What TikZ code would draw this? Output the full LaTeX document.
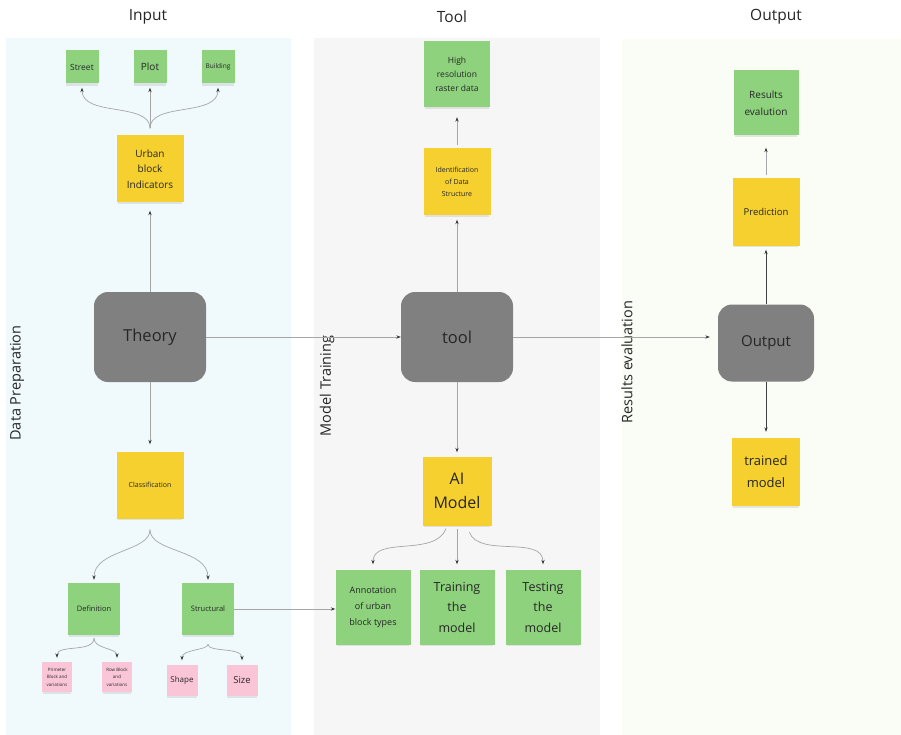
\documentclass[tikz,border=0pt]{standalone}
\usepackage{fontspec}
\setmainfont{Open Sans}
\usetikzlibrary{arrows.meta,shadows}

\definecolor{inputbg}{HTML}{F0FAFD}
\definecolor{toolbg}{HTML}{F6F6F6}
\definecolor{outputbg}{HTML}{FAFCF6}
\definecolor{notegreen}{HTML}{8ED27E}
\definecolor{noteyellow}{HTML}{F5D02E}
\definecolor{notepink}{HTML}{FAC6D7}
\definecolor{hubgrey}{HTML}{808080}
\definecolor{inkgrey}{HTML}{262626}

\tikzset{
  note/.style={rectangle, minimum width=#1, minimum height=#1, inner sep=1pt,
    align=center, text=inkgrey,
    drop shadow={shadow xshift=0pt, shadow yshift=-3pt, opacity=0.18, shadow scale=0.96}},
  greennote/.style={note=#1, fill=notegreen},
  yellownote/.style={note=#1, fill=noteyellow},
  pinknote/.style={note=#1, fill=notepink},
  hub/.style={rectangle, rounded corners=14pt, fill=hubgrey, text=inkgrey,
    font=\fontsize{16.5}{19}\selectfont},
  heading/.style={text=inkgrey, font=\fontsize{15.5}{18}\selectfont},
  phase/.style={rotate=90, text=inkgrey, font=\fontsize{14.5}{17}\selectfont},
  link/.style={draw=black!35, line width=0.7pt,
    -{Stealth[length=4.5pt, width=3.2pt, color=black!80]}},
  darklink/.style={link, draw=black!75}
}

\begin{document}
\begin{tikzpicture}[x=1pt, y=1pt]
\useasboundingbox (0,0) rectangle (901,-735);

% Column panels
\fill[inputbg] (6,-38) rectangle (291,-735);
\fill[toolbg] (314,-38) rectangle (600,-735);
\fill[outputbg] (622,-39) rectangle (901,-735);

% Column headings
\node[heading] (hinput) at (148,-17) {Input};
\node[heading] (htool) at (452,-17) {Tool};
\node[heading] (houtput) at (776,-17) {Output};

% Phase labels
\node[phase] (pprep) at (17,-383) {Data Preparation};
\node[phase] (ptrain) at (327,-386) {Model Training};
\node[phase] (peval) at (627,-362) {Results evaluation};

% Input column
\node[greennote=33pt, font=\fontsize{8.5}{10}\selectfont] (street) at (82,-67) {Street};
\node[greennote=33pt, font=\fontsize{10}{12}\selectfont] (plot) at (150,-67) {Plot};
\node[greennote=33pt, font=\fontsize{6.5}{8}\selectfont] (building) at (218,-67) {Building};
\node[yellownote=67pt, font=\fontsize{10}{15.5}\selectfont] (urban) at (150,-169) {Urban\\block\\Indicators};
\node[hub, minimum width=112pt, minimum height=90pt] (theory) at (150,-337) {Theory};
\node[yellownote=67pt, font=\fontsize{7}{9}\selectfont] (classif) at (150,-485) {Classification};
\node[greennote=52pt, font=\fontsize{7.5}{9}\selectfont] (definition) at (94,-609) {Definition};
\node[greennote=52pt, font=\fontsize{7.5}{9}\selectfont] (structural) at (208,-609) {Structural};
\node[pinknote=30pt, font=\fontsize{4.5}{7.5}\selectfont] (primeter) at (57,-677) {Primeter\\Block and\\variations};
\node[pinknote=30pt, font=\fontsize{4.5}{7.5}\selectfont] (rowblock) at (117,-677) {Row Block\\and\\variations};
\node[pinknote=31pt, font=\fontsize{8}{10}\selectfont] (shape) at (182,-680) {Shape};
\node[pinknote=31pt, font=\fontsize{9.5}{11}\selectfont] (size) at (242,-680) {Size};

% Tool column
\node[greennote=66pt, font=\fontsize{8.5}{14}\selectfont] (raster) at (457,-74) {High\\resolution\\raster data};
\node[yellownote=67pt, font=\fontsize{7}{12}\selectfont] (ident) at (457,-182) {Identification\\of Data\\Structure};
\node[hub, minimum width=112pt, minimum height=90pt] (tool) at (457,-337) {tool};
\node[yellownote=69pt, font=\fontsize{16}{24}\selectfont] (aimodel) at (457,-491) {AI\\Model};
\node[greennote=75pt, font=\fontsize{9}{16}\selectfont] (annot) at (373,-607) {Annotation\\of urban\\block types};
\node[greennote=75pt, font=\fontsize{12.5}{20.5}\selectfont] (training) at (457,-607) {Training\\the\\model};
\node[greennote=75pt, font=\fontsize{12.5}{20.5}\selectfont] (testing) at (543,-607) {Testing\\the\\model};

% Output column
\node[greennote=65pt, font=\fontsize{10}{17}\selectfont] (results) at (766,-103) {Results\\evalution};
\node[yellownote=67pt, font=\fontsize{9.5}{11}\selectfont] (predict) at (766,-212) {Prediction};
\node[hub, minimum width=96pt, minimum height=77pt, font=\fontsize{15}{18}\selectfont] (output) at (766,-343) {Output};
\node[yellownote=68pt, font=\fontsize{13}{22}\selectfont] (trained) at (766,-472) {trained\\model};

% Input connectors
\draw[link, shorten >=8pt] (theory.north) -- (urban.south);
\draw[link, shorten >=7pt] (theory.south) -- (classif.north);
\draw[link, shorten <=7pt, shorten >=4pt] (urban.north) to[out=90, in=-90] (street.south);
\draw[link, shorten <=7pt, shorten >=4pt] (urban.north) -- (plot.south);
\draw[link, shorten <=7pt, shorten >=4pt] (urban.north) to[out=90, in=-90] (building.south);
\draw[link, shorten <=11pt, shorten >=3pt] (classif.south) to[out=-90, in=90] (definition.north);
\draw[link, shorten <=11pt, shorten >=3pt] (classif.south) to[out=-90, in=90] (structural.north);
\draw[link, shorten <=3pt, shorten >=4pt] (definition.south) to[out=-90, in=90] (primeter.north);
\draw[link, shorten <=3pt, shorten >=4pt] (definition.south) to[out=-90, in=90] (rowblock.north);
\draw[link, shorten <=9pt, shorten >=4pt] (structural.south) to[out=-90, in=90] (shape.north);
\draw[link, shorten <=9pt, shorten >=4pt] (structural.south) to[out=-90, in=90] (size.north);
\draw[link] (structural.east) -- (structural.east -| annot.west);

% Tool connectors
\draw[link] (theory.east) -- (tool.west);
\draw[link, shorten >=4pt] (tool.north) -- (ident.south);
\draw[link, shorten <=3pt, shorten >=10pt] (ident.north) -- (raster.south);
\draw[link, shorten >=4pt] (tool.south) -- (aimodel.north);
\draw[link, shorten <=3pt, shorten >=5pt] ([xshift=-10pt]aimodel.south) to[out=-110, in=90] (annot.north);
\draw[link, shorten <=3pt, shorten >=5pt] (aimodel.south) -- (training.north);
\draw[link, shorten <=7pt, shorten >=5pt] ([xshift=10pt]aimodel.south) to[out=-70, in=90] (testing.north);

% Output connectors
\draw[link, shorten >=8pt] (tool.east) -- (tool.east -| output.west);
\draw[darklink, shorten >=4pt] (output.north) -- (predict.south);
\draw[link, shorten <=3pt, shorten >=12pt] (predict.north) -- (results.south);
\draw[darklink, shorten >=6pt] (output.south) -- (trained.north);

\end{tikzpicture}
\end{document}
